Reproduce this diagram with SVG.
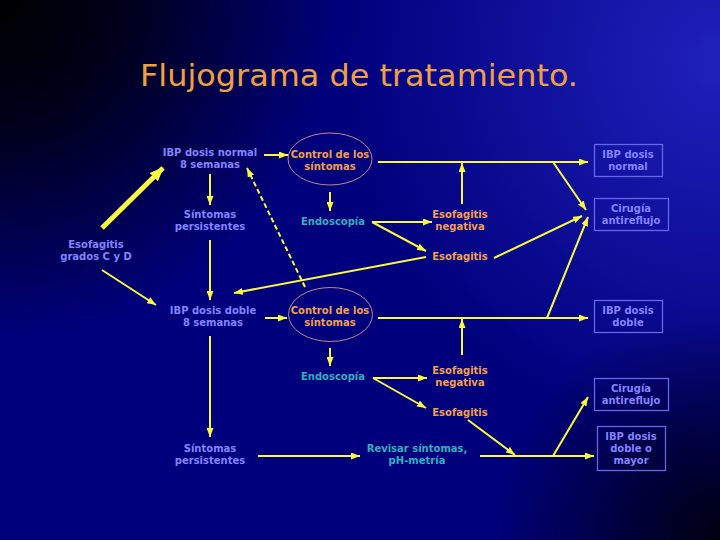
<svg xmlns="http://www.w3.org/2000/svg" width="720" height="540" viewBox="0 0 720 540">
<defs>
<radialGradient id="tl" gradientUnits="userSpaceOnUse" cx="0" cy="0" r="340">
<stop offset="0" stop-color="#000000" stop-opacity="1"/>
<stop offset="0.35" stop-color="#000000" stop-opacity="0.8"/>
<stop offset="1" stop-color="#000000" stop-opacity="0"/>
</radialGradient>
<radialGradient id="tr" gradientUnits="userSpaceOnUse" cx="720" cy="60" r="380">
<stop offset="0" stop-color="#2020bc" stop-opacity="1"/>
<stop offset="1" stop-color="#2020bc" stop-opacity="0"/>
</radialGradient>
<radialGradient id="br" gradientUnits="userSpaceOnUse" cx="720" cy="540" r="230">
<stop offset="0" stop-color="#000010" stop-opacity="1"/>
<stop offset="1" stop-color="#000010" stop-opacity="0"/>
</radialGradient>
<marker id="ah" markerUnits="userSpaceOnUse" markerWidth="9" markerHeight="7" refX="9" refY="3.5" orient="auto">
<path d="M0,0 L9,3.5 L0,7 z" fill="#f8f840"/>
</marker>
<marker id="ahb" markerUnits="userSpaceOnUse" markerWidth="14" markerHeight="12" refX="13" refY="6" orient="auto">
<path d="M0,0 L14,6 L0,12 z" fill="#f8f840"/>
</marker>
</defs>
<style>
.t{font-family:"DejaVu Sans",Verdana,sans-serif;font-size:10px;font-weight:bold;text-anchor:middle}
.b{fill:#8484ff}
.o{fill:#f0a050}
.c{fill:#30b0bc}
.box{fill:none;stroke:#6666e8;stroke-width:1.3}
.ell{fill:none;stroke:#c08888;stroke-width:1}
.arr{stroke:#f8f840;stroke-width:2;fill:none;marker-end:url(#ah)}
</style>
<rect width="720" height="540" fill="#00007c"/>
<rect width="720" height="540" fill="url(#tr)"/>
<rect width="720" height="540" fill="url(#tl)"/>
<rect width="720" height="540" fill="url(#br)"/>
<text x="140" y="86" font-family="DejaVu Sans,Verdana,sans-serif" font-size="30" fill="#f0a040" textLength="438" lengthAdjust="spacingAndGlyphs">Flujograma de tratamiento.</text>

<g id="connectors">
<line class="arr" x1="264" y1="155" x2="288" y2="155"/>
<line class="arr" x1="330" y1="192" x2="330" y2="211"/>
<line class="arr" x1="210" y1="174" x2="210" y2="205"/>
<line class="arr" x1="210" y1="240" x2="210" y2="300"/>
<line x1="102" y1="228" x2="163" y2="168" stroke="#f8f840" stroke-width="5" marker-end="url(#ahb)"/>
<line class="arr" x1="102" y1="270" x2="156" y2="305"/>
<line class="arr" x1="305" y1="287" x2="247" y2="168" stroke-dasharray="5,3" stroke-width="2.5"/>
<line class="arr" x1="426" y1="257" x2="234" y2="293"/>
<line class="arr" x1="378" y1="162" x2="588" y2="162"/>
<line class="arr" x1="462" y1="204" x2="462" y2="163"/>
<line class="arr" x1="372" y1="222" x2="432" y2="222"/>
<line class="arr" x1="372" y1="222" x2="426" y2="251"/>
<line class="arr" x1="494" y1="258" x2="582" y2="216"/>
<line class="arr" x1="553" y1="162" x2="586" y2="210"/>
<line class="arr" x1="547" y1="318" x2="588" y2="217"/>
<line class="arr" x1="265" y1="318" x2="287" y2="318"/>
<line class="arr" x1="330" y1="348" x2="330" y2="366"/>
<line class="arr" x1="373" y1="378" x2="427" y2="378"/>
<line class="arr" x1="373" y1="378" x2="426" y2="408"/>
<line class="arr" x1="462" y1="355" x2="462" y2="319"/>
<line class="arr" x1="378" y1="318" x2="588" y2="318"/>
<line class="arr" x1="468" y1="420" x2="515" y2="455"/>
<line class="arr" x1="480" y1="456" x2="594" y2="456"/>
<line class="arr" x1="553" y1="456" x2="588" y2="397"/>
<line class="arr" x1="258" y1="456" x2="360" y2="456"/>
<line class="arr" x1="210" y1="336" x2="210" y2="437"/>
</g>

<g id="ibp-normal-8"><text class="t b" x="210" y="156">IBP dosis normal</text><text class="t b" x="210" y="168">8 semanas</text></g>
<g id="control-1"><ellipse class="ell" cx="330" cy="159" rx="42" ry="26"/><text class="t o" x="330" y="158">Control de los</text><text class="t o" x="330" y="170">síntomas</text></g>
<g id="sintomas-1"><text class="t b" x="210" y="218">Síntomas</text><text class="t b" x="210" y="230">persistentes</text></g>
<g id="endoscopia-1"><text class="t c" x="333" y="225">Endoscopía</text></g>
<g id="esof-neg-1"><text class="t o" x="460" y="218">Esofagitis</text><text class="t o" x="460" y="230">negativa</text></g>
<g id="esof-1"><text class="t o" x="460" y="260">Esofagitis</text></g>
<g id="esof-cd"><text class="t b" x="96" y="248">Esofagitis</text><text class="t b" x="96" y="260">grados C y D</text></g>
<g id="box-ibp-normal"><rect class="box" x="594.5" y="144.5" width="68" height="32"/><text class="t b" x="628" y="158">IBP dosis</text><text class="t b" x="628" y="170">normal</text></g>
<g id="box-cirugia-1"><rect class="box" x="594.5" y="198.5" width="74" height="32"/><text class="t b" x="631" y="212">Cirugía</text><text class="t b" x="631" y="224">antireflujo</text></g>

<g id="ibp-doble-8"><text class="t b" x="213" y="314">IBP dosis doble</text><text class="t b" x="213" y="326">8 semanas</text></g>
<g id="control-2"><ellipse class="ell" cx="330.5" cy="314.5" rx="42" ry="27"/><text class="t o" x="330" y="314">Control de los</text><text class="t o" x="330" y="326">síntomas</text></g>
<g id="endoscopia-2"><text class="t c" x="333" y="380">Endoscopía</text></g>
<g id="esof-neg-2"><text class="t o" x="460" y="374">Esofagitis</text><text class="t o" x="460" y="386">negativa</text></g>
<g id="esof-2"><text class="t o" x="460" y="416">Esofagitis</text></g>
<g id="box-ibp-doble"><rect class="box" x="594.5" y="300.5" width="68" height="32"/><text class="t b" x="628" y="314">IBP dosis</text><text class="t b" x="628" y="326">doble</text></g>
<g id="box-cirugia-2"><rect class="box" x="594.5" y="378.5" width="74" height="32"/><text class="t b" x="631" y="392">Cirugía</text><text class="t b" x="631" y="404">antireflujo</text></g>
<g id="box-ibp-mayor"><rect class="box" x="597.5" y="426.5" width="68" height="44"/><text class="t b" x="631" y="440">IBP dosis</text><text class="t b" x="631" y="452">doble o</text><text class="t b" x="631" y="464">mayor</text></g>
<g id="sintomas-2"><text class="t b" x="210" y="452">Síntomas</text><text class="t b" x="210" y="464">persistentes</text></g>
<g id="revisar"><text class="t c" x="417" y="452">Revisar síntomas,</text><text class="t c" x="417" y="464">pH-metría</text></g>
</svg>
